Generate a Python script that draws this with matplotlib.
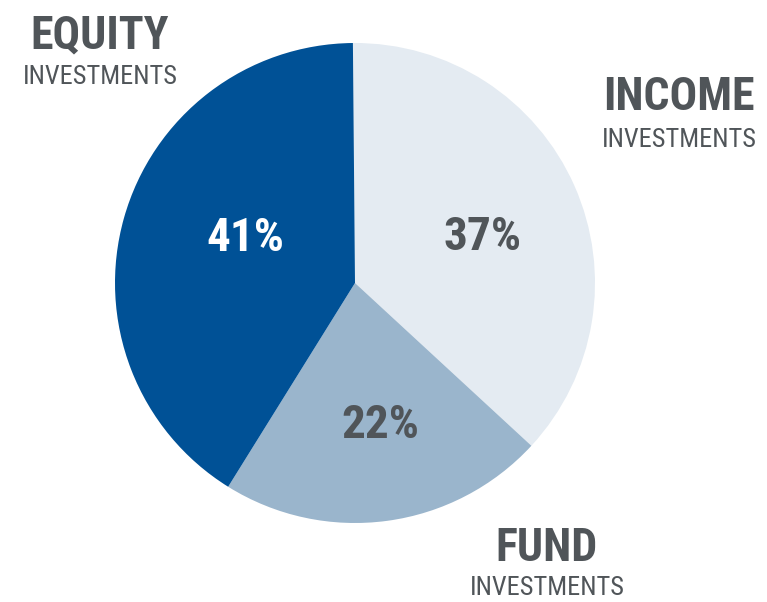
import matplotlib
matplotlib.use("Agg")
import matplotlib.pyplot as plt

# Data
categories = ["INCOME", "FUND", "EQUITY"]
shares = [37, 22, 41]
colors = ["#e4ebf2", "#9ab5cc", "#005196"]
pct_colors = ["#505559", "#505559", "#ffffff"]

family = "Roboto Condensed"
grey = "#505559"

W, H = 767, 602
fig = plt.figure(figsize=(W / 100, H / 100), dpi=100)
ax = fig.add_axes([0, 0, 1, 1])

cx, cy, r = 355, H - 283, 240
wedges, _ = ax.pie(shares, colors=colors, startangle=90.5, counterclock=False,
                   center=(cx, cy), radius=r, frame=True)
ax.set_xlim(0, W)
ax.set_ylim(0, H)
ax.set_aspect("equal")
ax.axis("off")

# percentage labels (pixel positions from the top)
pct_pos = [(483, 237), (380, 425), (245, 238)]
for val, (x, y), c in zip(shares, pct_pos, pct_colors):
    ax.text(x, H - y, f"{val}%", ha="center", va="center", fontsize=34,
            fontweight="bold", color=c, family=family)

# category labels
lab_pos = [(679, 97, 140), (547, 548, 588), (100, 35, 77)]
for name, (x, y1, y2) in zip(categories, lab_pos):
    ax.text(x, H - y1, name, ha="center", va="center", fontsize=33,
            fontweight="bold", color=grey, family=family)
    ax.text(x, H - y2, "INVESTMENTS", ha="center", va="center", fontsize=19,
            color=grey, family=family)

fig.savefig("out.png", dpi=100)
